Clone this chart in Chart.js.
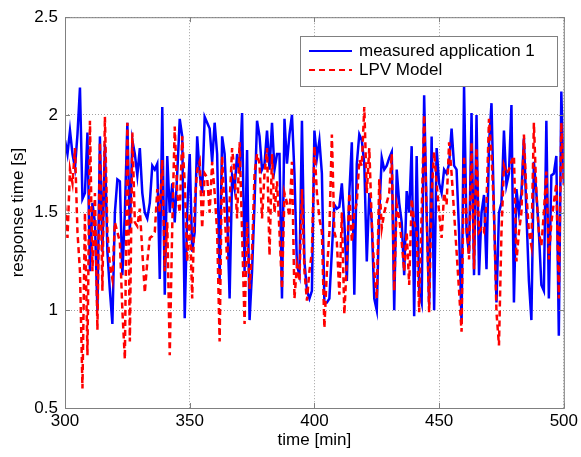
<!DOCTYPE html>
<html>
<head>
<meta charset="utf-8">
<script src="https://cdn.jsdelivr.net/npm/chart.js@4"></script>
<style>
  html, body { margin: 0; padding: 0; background: #ffffff; }
  #caja { width: 581px; height: 457px; }
</style>
</head>
<body>
<div id="caja"><canvas id="graficaRespuesta"></canvas></div>
<script>
// tiempo de muestreo (min)
const tiempo = [
  300,301,302,303,304,305,306,307,308,309,310,311,312,313,314,315,316,317,318,319,
  320,321,322,323,324,325,326,327,328,329,330,331,332,333,334,335,336,337,338,339,
  340,341,342,343,344,345,346,347,348,349,350,351,352,353,354,355,356,357,358,359,
  360,361,362,363,364,365,366,367,368,369,370,371,372,373,374,375,376,377,378,379,
  380,381,382,383,384,385,386,387,388,389,390,391,392,393,394,395,396,397,398,399,
  400,401,402,403,404,405,406,407,408,409,410,411,412,413,414,415,416,417,418,419,
  420,421,422,423,424,425,426,427,428,429,430,431,432,433,434,435,436,437,438,439,
  440,441,442,443,444,445,446,447,448,449,450,451,452,453,454,455,456,457,458,459,
  460,461,462,463,464,465,466,467,468,469,470,471,472,473,474,475,476,477,478,479,
  480,481,482,483,484,485,486,487,488,489,490,491,492,493,494,495,496,497,498,499,
  500
];

// tiempo de respuesta medido (s)
const medido = [
  1.87,1.80,1.92,1.80,1.73,1.90,2.14,1.57,1.60,1.91,1.20,1.55,1.45,1.00,1.89,1.30,1.85,1.30,1.10,0.93,
  1.50,1.67,1.66,1.18,1.50,1.96,1.40,1.87,1.80,1.69,1.83,1.60,1.50,1.47,1.55,1.74,1.72,1.75,1.16,2.04,
  1.08,1.79,1.50,1.65,1.45,1.70,1.98,1.89,0.96,1.50,1.80,1.30,1.40,1.89,1.70,1.60,1.99,1.96,1.93,1.76,
  1.96,1.80,1.16,1.89,1.80,1.50,1.06,1.69,1.62,1.80,1.70,2.01,1.20,1.82,0.95,1.20,1.55,1.97,1.89,1.72,
  1.75,1.92,1.72,1.96,1.72,1.80,1.80,1.06,1.98,1.75,1.90,2.00,1.70,1.23,1.18,1.97,1.25,1.10,1.06,1.10,
  1.92,1.78,1.87,1.70,1.04,1.04,1.06,1.30,1.54,1.52,1.53,1.65,1.45,1.15,1.60,1.86,1.08,1.75,1.90,1.87,
  1.75,1.25,1.60,1.45,1.06,1.00,1.50,1.78,1.72,1.74,1.78,1.81,1.00,1.72,1.55,1.45,1.18,1.61,1.50,1.84,
  0.97,1.79,1.10,1.04,2.10,1.50,1.03,1.89,1.00,1.83,1.65,1.60,1.72,1.70,1.75,1.93,1.74,1.72,1.40,0.93,
  2.15,1.40,1.29,2.01,1.18,2.00,1.18,1.50,1.59,1.21,1.85,2.06,1.50,1.04,1.50,1.55,1.92,1.64,1.70,2.05,
  1.04,1.62,1.50,1.60,1.88,1.50,1.15,0.95,1.76,1.60,1.40,1.13,1.10,1.97,1.06,1.69,1.70,1.79,0.87,2.12,
  1.65
];

// salida del modelo LPV (s)
const modelo = [
  1.54,1.37,1.72,1.65,1.83,1.40,1.20,0.60,1.50,0.77,1.97,1.20,1.60,0.90,1.86,1.10,1.99,1.40,1.23,1.16,
  1.45,1.40,1.35,1.00,0.75,1.96,0.84,1.91,1.45,1.43,1.52,1.30,1.09,1.25,1.37,1.38,1.40,1.62,1.50,1.77,
  1.20,1.45,0.77,1.43,1.94,1.60,1.50,1.89,1.65,1.25,1.50,1.06,1.55,1.72,1.76,1.42,1.70,1.68,1.50,1.76,
  1.60,1.40,0.84,1.79,1.50,1.26,1.55,1.83,1.70,1.47,1.86,1.40,0.93,1.45,1.11,1.30,1.70,1.80,1.75,1.47,
  1.70,1.83,1.28,1.80,1.50,1.66,1.40,1.11,1.60,1.55,1.48,1.76,1.06,1.23,1.15,1.62,1.20,1.05,1.20,1.30,
  1.84,1.60,1.47,1.40,0.91,1.20,1.40,1.90,1.40,1.35,1.08,1.50,0.98,1.25,1.60,1.35,1.50,1.55,1.77,1.74,
  2.04,1.60,1.83,1.45,1.20,1.06,1.67,1.42,1.50,1.55,1.60,1.80,1.10,1.54,1.47,1.35,1.20,1.40,1.13,1.57,
  1.45,1.40,0.99,1.50,2.00,1.50,0.99,1.60,1.81,1.65,1.50,1.37,1.60,1.54,1.86,1.70,1.50,1.30,1.10,0.89,
  1.79,1.45,1.26,1.86,1.21,1.83,1.40,1.42,1.40,1.55,1.98,1.80,1.50,0.99,0.82,1.40,1.74,1.70,1.72,1.76,
  1.79,1.25,1.40,1.50,1.90,1.60,1.40,1.33,1.96,1.60,1.40,1.33,1.50,1.71,1.26,1.45,1.55,1.65,1.06,1.96,
  1.64
];

const nombres = ["measured application 1", "LPV Model"];

document.addEventListener("DOMContentLoaded", function () {
  const fuente = { family: "'Liberation Sans', Arial, sans-serif", size: 17 };
  const gris = "#808080";

  // caja del eje, marcas hacia dentro y leyenda estilo MATLAB
  const marcoYLeyenda = {
    id: "marcoYLeyenda",
    afterDraw(chart) {
      const ctx = chart.ctx;
      const a = chart.chartArea;
      const sx = chart.scales.x, sy = chart.scales.y;
      ctx.save();
      ctx.strokeStyle = gris;
      ctx.lineWidth = 1;
      ctx.setLineDash([]);
      ctx.strokeRect(a.left + 0.5, a.top + 0.5, a.right - a.left, a.bottom - a.top);
      ctx.beginPath();
      sx.ticks.forEach(t => {
        const px = Math.round(sx.getPixelForValue(t.value)) + 0.5;
        ctx.moveTo(px, a.bottom); ctx.lineTo(px, a.bottom - 5);
        ctx.moveTo(px, a.top); ctx.lineTo(px, a.top + 5);
      });
      sy.ticks.forEach(t => {
        const py = Math.round(sy.getPixelForValue(t.value)) + 0.5;
        ctx.moveTo(a.left, py); ctx.lineTo(a.left + 5, py);
        ctx.moveTo(a.right, py); ctx.lineTo(a.right - 5, py);
      });
      ctx.stroke();

      // leyenda
      const lx = 300, ly = 36, lw = 257, lh = 50;
      ctx.fillStyle = "#ffffff";
      ctx.fillRect(lx, ly, lw, lh);
      ctx.strokeRect(lx + 0.5, ly + 0.5, lw, lh);
      ctx.font = fuente.size + "px " + fuente.family;
      ctx.textBaseline = "middle";
      const filas = [51, 70];
      chart.data.datasets.forEach((ds, i) => {
        ctx.strokeStyle = ds.borderColor;
        ctx.lineWidth = 2;
        ctx.setLineDash(ds.borderDash || []);
        ctx.beginPath();
        ctx.moveTo(309, filas[i]); ctx.lineTo(352, filas[i]);
        ctx.stroke();
        ctx.fillStyle = "#000000";
        ctx.fillText(ds.label, 359, filas[i]);
      });
      ctx.restore();
    }
  };

  const ctx = document.getElementById("graficaRespuesta").getContext("2d");
  new Chart(ctx, {
    type: "line",
    data: {
      labels: tiempo,
      datasets: [
        {
          label: nombres[0],
          data: medido,
          borderColor: "#0000ff",
          borderWidth: 2.5,
          pointRadius: 0,
          order: 1
        },
        {
          label: nombres[1],
          data: modelo,
          borderColor: "#ff0000",
          borderWidth: 2.5,
          borderDash: [6, 4],
          pointRadius: 0,
          order: 0
        }
      ]
    },
    options: {
      responsive: true,
      maintainAspectRatio: false,
      animation: false,
      layout: { padding: { top: 15, right: 17, left: 0, bottom: 0 } },
      plugins: { legend: { display: false }, tooltip: { enabled: false } },
      scales: {
        x: {
          type: "linear",
          min: 300,
          max: 500,
          border: { display: false, dash: [1, 2] },
          grid: { color: "#a0a0a0", lineWidth: 1, tickLength: 0, drawTicks: false },
          ticks: { stepSize: 50, color: "#000000", font: fuente, padding: 3, maxRotation: 0 },
          title: { display: true, text: "time [min]", color: "#000000", font: fuente, padding: { top: 0, bottom: 6 } },
          afterFit(scale) { scale.height = 49; }
        },
        y: {
          min: 0.5,
          max: 2.5,
          border: { display: false, dash: [1, 2] },
          grid: { color: "#a0a0a0", lineWidth: 1, drawTicks: false },
          ticks: { stepSize: 0.5, color: "#000000", font: fuente, padding: 7, callback: v => String(v) },
          title: { display: true, text: "response time [s]", color: "#000000", font: fuente, padding: { top: 8, bottom: 0 } },
          afterFit(scale) { scale.width = 65; }
        }
      }
    },
    plugins: [marcoYLeyenda]
  });
});
</script>
</body>
</html>
